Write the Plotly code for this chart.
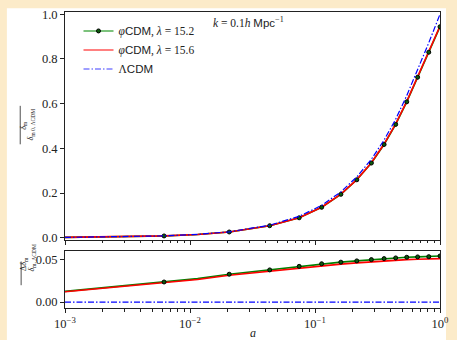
import plotly.graph_objects as go

# ---------------- data ----------------
a_vals = [0.001, 0.002, 0.0035, 0.0062, 0.0115, 0.0206, 0.0434, 0.0747, 0.113,
          0.161, 0.216, 0.2825, 0.357, 0.442, 0.542, 0.662, 0.813, 1.0]
has_marker = [0, 0, 0, 1, 0, 1, 1, 1, 1, 1, 1, 1, 1, 1, 1, 1, 1, 1]

# top panel: delta_m / delta_m0,LCDM
lcdm_top = [0.00128, 0.00257, 0.0045, 0.0080, 0.0148, 0.0264, 0.0557, 0.0957, 0.1445,
            0.205, 0.272, 0.351, 0.437, 0.530, 0.636, 0.752, 0.872, 1.0]
phi152_top = [0.00126, 0.00253, 0.0044, 0.0078, 0.0144, 0.0256, 0.0536, 0.089, 0.136,
              0.194, 0.259, 0.334, 0.417, 0.507, 0.608, 0.718, 0.830, 0.944]
phi156_top = [0.00126, 0.00254, 0.00445, 0.0079, 0.0145, 0.0257, 0.0537, 0.0892, 0.1365,
              0.1948, 0.260, 0.3355, 0.419, 0.509, 0.610, 0.720, 0.832, 0.947]

# bottom panel: Delta delta_m / delta_m,LCDM
phi152_bot = [0.0127, 0.0168, 0.0202, 0.0238, 0.0278, 0.0330, 0.0381, 0.0423, 0.0454,
              0.0473, 0.0488, 0.0503, 0.0515, 0.0523, 0.0531, 0.0535, 0.0538, 0.0546]
phi156_bot = [0.0122, 0.0162, 0.0195, 0.0230, 0.0268, 0.0318, 0.0366, 0.0405, 0.0433,
              0.0450, 0.0464, 0.0477, 0.0488, 0.0496, 0.0503, 0.0507, 0.0510, 0.0515]
lcdm_bot = [0.0] * len(a_vals)

x_tickvals = [0.001, 0.01, 0.1, 1.0]
x_ticktext = ["10<sup>−3</sup>", "10<sup>−2</sup>", "10<sup>−1</sup>", "10<sup>0</sup>"]
y1_tickvals = [0.0, 0.2, 0.4, 0.6, 0.8, 1.0]
y2_tickvals = [0.0, 0.05]

SANS = "Liberation Sans"
def sans(t):
    return "<span style='font-family:%s'>%s</span>" % (SANS, t)

labels = ["<i>φ</i>" + sans("CDM") + ", <i>λ</i> = 15.2",
          "<i>φ</i>" + sans("CDM") + ", <i>λ</i> = 15.6",
          "Λ" + sans("CDM")]

# ---------------- figure ----------------
GREEN = "#008000"
RED = "#ff0000"
BLUE = "#0000ff"
SERIF = "Liberation Serif"

mk_x = [a for a, m in zip(a_vals, has_marker) if m]
mk_top = [v for v, m in zip(phi152_top, has_marker) if m]
mk_bot = [v for v, m in zip(phi152_bot, has_marker) if m]

minor_vals = [m * 10.0 ** e for e in (-3, -2, -1) for m in range(2, 10)]

fig = go.Figure()

for xa, ya, ys in (("x", "y", (phi152_top, phi156_top, lcdm_top, mk_top)),
                   ("x2", "y2", (phi152_bot, phi156_bot, lcdm_bot, mk_bot))):
    g, r, b, m = ys
    fig.add_trace(go.Scatter(x=a_vals, y=g, mode="lines", line=dict(color=GREEN, width=1.6),
                             xaxis=xa, yaxis=ya, showlegend=False))
    fig.add_trace(go.Scatter(x=a_vals, y=r, mode="lines", line=dict(color=RED, width=1.6),
                             xaxis=xa, yaxis=ya, showlegend=False))
    fig.add_trace(go.Scatter(x=mk_x, y=m, mode="markers",
                             marker=dict(color="#0b5a0b", size=4, line=dict(color="black", width=1)),
                             xaxis=xa, yaxis=ya, showlegend=False))
    fig.add_trace(go.Scatter(x=a_vals, y=b, mode="lines",
                             line=dict(color=BLUE, width=1.2, dash="6px,2px,1.5px,2px"),
                             xaxis=xa, yaxis=ya, showlegend=False))

# legend-only entries (paler handles as in the reference)
fig.add_trace(go.Scatter(x=[None], y=[None], mode="lines+markers", name=labels[0],
                         line=dict(color="#7cc27c", width=2),
                         marker=dict(color="#0b5a0b", size=4, line=dict(color="black", width=1))))
fig.add_trace(go.Scatter(x=[None], y=[None], mode="lines", name=labels[1],
                         line=dict(color="#ff8080", width=2)))
fig.add_trace(go.Scatter(x=[None], y=[None], mode="lines", name=labels[2],
                         line=dict(color="#7f7fff", width=1.5, dash="6px,2px,1.5px,2px")))

axis_common = dict(showline=True, linecolor="#222", linewidth=1, mirror=True,
                   ticks="outside", ticklen=4, tickcolor="#222", showgrid=False,
                   zeroline=False, tickfont=dict(family=SERIF, size=12.5, color="#222"))
minor_common = dict(ticks="outside", ticklen=2.5, tickcolor="#222", showgrid=False,
                    tickvals=minor_vals)

fig.update_layout(
    width=457, height=340,
    margin=dict(l=65, r=11, t=8, b=32),
    paper_bgcolor="#fcebc9",
    plot_bgcolor="white",
    font=dict(family=SERIF, color="#222"),
    xaxis=dict(type="log", range=[-3, 0], domain=[0, 1], anchor="y", matches="x2",
               showticklabels=False, tickvals=x_tickvals, minor=minor_common, **axis_common),
    yaxis=dict(domain=[0.23, 1], range=[-0.01, 1.01], anchor="x",
               tickvals=y1_tickvals, tickformat=".1f", **axis_common),
    xaxis2=dict(type="log", range=[-3, 0], domain=[0, 1], anchor="y2",
                tickvals=x_tickvals, ticktext=x_ticktext, minor=minor_common, **axis_common),
    yaxis2=dict(domain=[0, 0.194], range=[-0.007, 0.061], anchor="x2",
                tickvals=y2_tickvals, tickformat=".2f", **axis_common),
    legend=dict(x=0.036, y=0.985, xanchor="left", yanchor="top", bgcolor="rgba(0,0,0,0)",
                font=dict(family=SERIF, size=11.5, color="#222"), tracegroupgap=0,
                itemwidth=30),
    showlegend=True,
)

# white figure area over the beige page
fig.add_shape(type="rect", xref="paper", yref="paper", x0=-0.155, x1=1.016, y0=-0.11, y1=1.013,
              fillcolor="white", line=dict(width=0), layer="below")

# annotations
fig.add_annotation(x=0.388, y=0.965, xref="paper", yref="paper", xanchor="left", yanchor="middle",
                   text="<i>k</i> = 0.1<i>h</i> " + sans("Mpc") + "<sup>−1</sup>", showarrow=False,
                   font=dict(family=SERIF, size=11.5, color="#222"))
fig.add_annotation(x=0.5, y=-0.085, xref="paper", yref="paper", text="<i>a</i>", showarrow=False,
                   xanchor="center", yanchor="middle", font=dict(family=SERIF, size=12, color="#222"))

# y titles as rotated fractions (numerator, bar, denominator)
TF = dict(family=SERIF, size=8, color="#222")
fig.add_annotation(x=-0.1286, y=0.618, xref="paper", yref="paper", textangle=-90, showarrow=False,
                   text="<i>δ</i><sub>m</sub>", font=TF)
fig.add_annotation(x=-0.108, y=0.618, xref="paper", yref="paper", textangle=-90, showarrow=False,
                   text="<i>δ</i><sub>m 0, ΛCDM</sub>", font=TF)
fig.add_shape(type="line", xref="paper", yref="paper", x0=-0.1194, x1=-0.1194, y0=0.553, y1=0.683,
              line=dict(color="#222", width=0.8))
fig.add_annotation(x=-0.1265, y=0.117, xref="paper", yref="paper", textangle=-90, showarrow=False,
                   text="Δ<i>δ</i><sub>m</sub>", font=TF)
fig.add_annotation(x=-0.106, y=0.117, xref="paper", yref="paper", textangle=-90, showarrow=False,
                   text="<i>δ</i><sub>m, ΛCDM</sub>", font=TF)
fig.add_shape(type="line", xref="paper", yref="paper", x0=-0.117, x1=-0.117, y0=0.077, y1=0.157,
              line=dict(color="#222", width=0.8))

fig.write_html("out.html")
